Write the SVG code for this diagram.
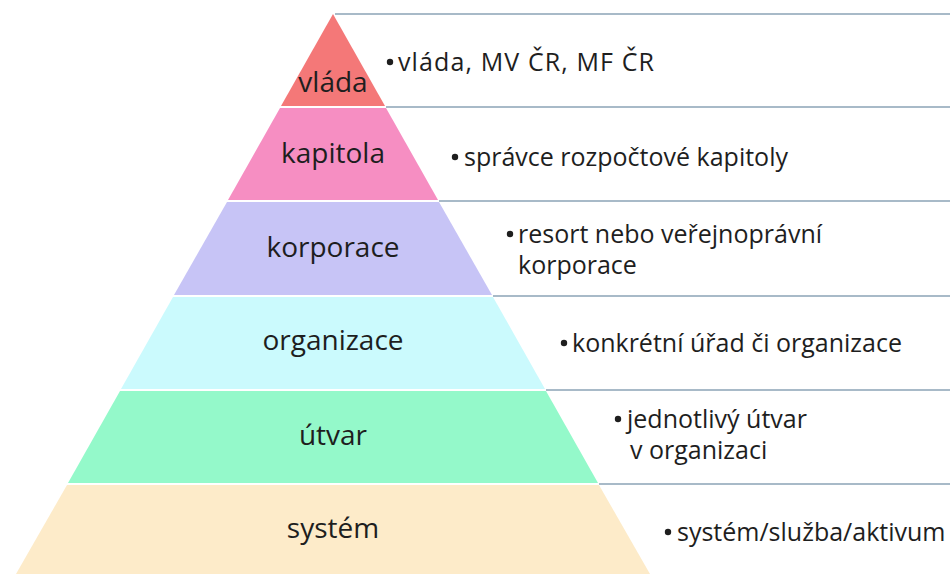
<svg xmlns="http://www.w3.org/2000/svg" width="950" height="574" viewBox="0 0 950 574">
<style>
  .lbl { font-family: "Open Sans", "Noto Sans", "Liberation Sans", sans-serif; font-size: 28px; fill: #1e1e1e; text-anchor: middle; }
  .txt { font-family: "Open Sans", "Noto Sans", "Liberation Sans", sans-serif; font-size: 25px; fill: #1e1e1e; }
  .sep { stroke: #8ba3b6; stroke-width: 1.5; fill: none; }
  .bul { fill: #1e1e1e; }
</style>
<rect x="0" y="0" width="950" height="574" fill="#ffffff"/>
<g id="separators">
  <line class="sep" x1="335" y1="14" x2="950" y2="14"/>
  <line class="sep" x1="386" y1="107" x2="950" y2="107"/>
  <line class="sep" x1="439" y1="201" x2="950" y2="201"/>
  <line class="sep" x1="493" y1="296" x2="950" y2="296"/>
  <line class="sep" x1="546" y1="390" x2="950" y2="390"/>
  <line class="sep" x1="599" y1="484" x2="950" y2="484"/>
</g>
<g id="vlada">
  <polygon points="333,14 385,106 281,106" fill="#f47878"/>
  <text class="lbl" x="333" y="92">vláda</text>
  <circle class="bul" cx="390" cy="62" r="3.2"/>
  <text class="txt" x="398" y="71" textLength="256" lengthAdjust="spacing">vláda, MV ČR, MF ČR</text>
</g>
<g id="kapitola">
  <polygon points="280,108 386,108 438,200 228,200" fill="#f68ec2"/>
  <text class="lbl" x="333" y="163">kapitola</text>
  <circle class="bul" cx="455" cy="157" r="3.2"/>
  <text class="txt" x="464" y="166">správce rozpočtové kapitoly</text>
</g>
<g id="korporace">
  <polygon points="227,202 439,202 492,295 174,295" fill="#c7c4f6"/>
  <text class="lbl" x="333" y="257">korporace</text>
  <circle class="bul" cx="510" cy="234" r="3.2"/>
  <text class="txt" x="518" y="243">resort nebo veřejnoprávní<tspan x="518" y="274">korporace</tspan></text>
</g>
<g id="organizace">
  <polygon points="173,297 493,297 545,389 121,389" fill="#cbfafd"/>
  <text class="lbl" x="333" y="350">organizace</text>
  <circle class="bul" cx="564" cy="343" r="3.2"/>
  <text class="txt" x="572" y="352">konkrétní úřad či organizace</text>
</g>
<g id="utvar">
  <polygon points="120,391 546,391 598,483 68,483" fill="#94f9ca"/>
  <text class="lbl" x="333" y="445">útvar</text>
  <circle class="bul" cx="618" cy="419" r="3.2"/>
  <text class="txt" x="627" y="428">jednotlivý útvar<tspan x="630" y="459">v  organizaci</tspan></text>
</g>
<g id="system">
  <polygon points="67,485 599,485 650,574 16,574" fill="#fdebc9"/>
  <text class="lbl" x="333" y="538">systém</text>
  <circle class="bul" cx="668" cy="532" r="3.2"/>
  <text class="txt" x="677" y="541">systém/služba/aktivum</text>
</g>
</svg>
